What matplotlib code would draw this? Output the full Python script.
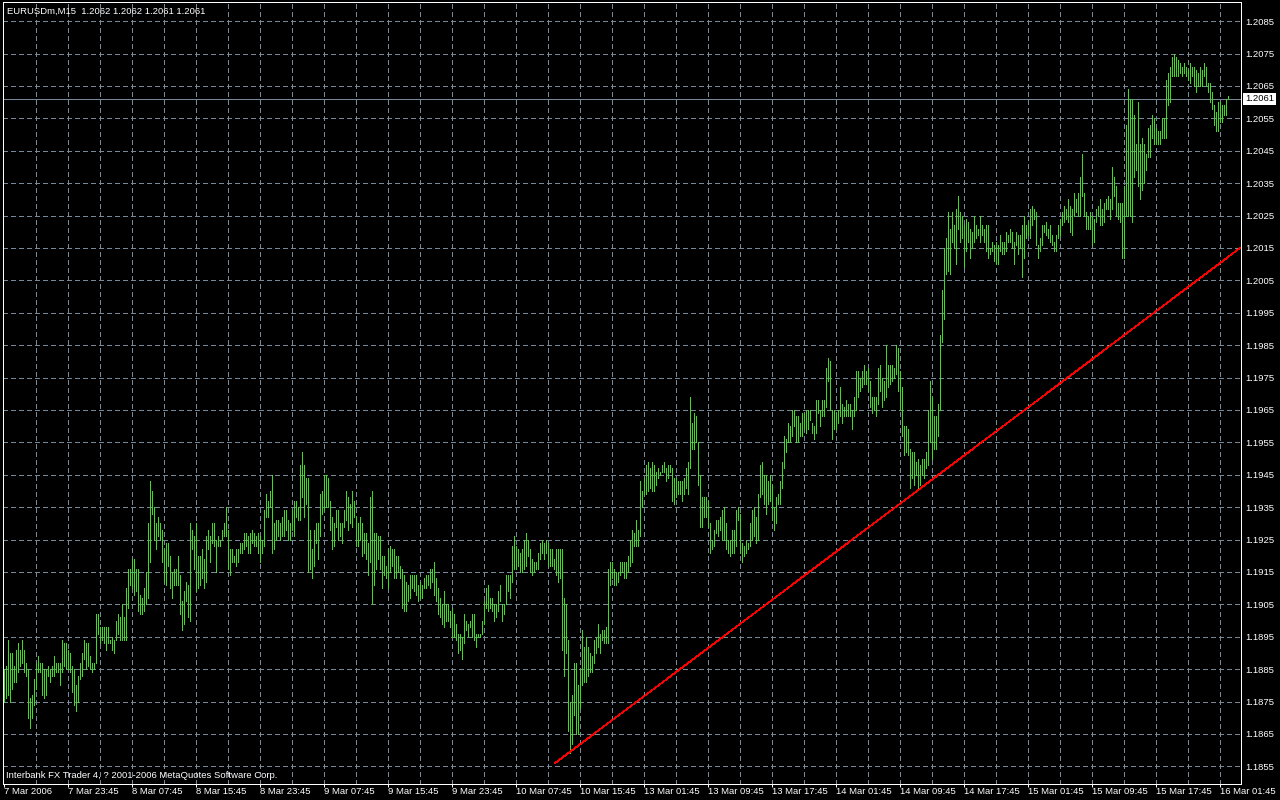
import numpy as np
import matplotlib
matplotlib.use("Agg")
import matplotlib.pyplot as plt

plt.rcParams['font.family'] = ['Liberation Sans', 'DejaVu Sans']

# ---------------- data (EURUSDm, M15) ----------------
header_text = "EURUSDm,M15  1.2062 1.2062 1.2061 1.2061"
footer_text = "Interbank FX Trader 4, ? 2001-2006 MetaQuotes Software Corp."

high = [
    1.1885,1.1886,1.1894,1.1890,1.1890,1.1886,1.1891,1.1893,1.1891,1.1894,
    1.1891,1.1887,1.1885,1.1876,1.1877,1.1882,1.1887,1.1889,1.1887,1.1887,
    1.1885,1.1885,1.1886,1.1885,1.1886,1.1889,1.1887,1.1887,1.1887,1.1894,
    1.1893,1.1893,1.1891,1.1890,1.1886,1.1885,1.1880,1.1883,1.1887,1.1890,
    1.1894,1.1893,1.1893,1.1889,1.1887,1.1887,1.1902,1.1902,1.1898,1.1898,
    1.1898,1.1898,1.1898,1.1894,1.1895,1.1894,1.1900,1.1902,1.1901,1.1905,
    1.1901,1.1910,1.1916,1.1916,1.1919,1.1919,1.1916,1.1916,1.1908,1.1907,
    1.1910,1.1915,1.1930,1.1943,1.1940,1.1935,1.1930,1.1932,1.1930,1.1928,
    1.1922,1.1924,1.1924,1.1920,1.1915,1.1916,1.1916,1.1920,1.1914,1.1906,
    1.1909,1.1912,1.1911,1.1930,1.1928,1.1926,1.1930,1.1920,1.1920,1.1922,
    1.1919,1.1926,1.1928,1.1926,1.1930,1.1930,1.1925,1.1926,1.1925,1.1928,
    1.1930,1.1935,1.1928,1.1922,1.1922,1.1920,1.1922,1.1922,1.1924,1.1924,
    1.1927,1.1927,1.1926,1.1927,1.1928,1.1927,1.1926,1.1927,1.1926,1.1925,
    1.1934,1.1939,1.1937,1.1940,1.1945,1.1930,1.1931,1.1931,1.1930,1.1932,
    1.1934,1.1934,1.1931,1.1930,1.1934,1.1937,1.1937,1.1935,1.1948,1.1952,
    1.1948,1.1944,1.1944,1.1928,1.1922,1.1928,1.1930,1.1930,1.1939,1.1940,
    1.1945,1.1945,1.1944,1.1937,1.1932,1.1930,1.1934,1.1934,1.1930,1.1930,
    1.1934,1.1940,1.1938,1.1936,1.1940,1.1937,1.1932,1.1930,1.1932,1.1930,
    1.1927,1.1927,1.1924,1.1938,1.1940,1.1927,1.1927,1.1926,1.1926,1.1920,
    1.1920,1.1917,1.1922,1.1923,1.1922,1.1922,1.1920,1.1920,1.1917,1.1916,
    1.1914,1.1912,1.1911,1.1914,1.1914,1.1914,1.1914,1.1911,1.1912,1.1911,
    1.1913,1.1914,1.1914,1.1916,1.1916,1.1918,1.1913,1.1910,1.1907,1.1905,
    1.1909,1.1905,1.1905,1.1903,1.1904,1.1902,1.1899,1.1896,1.1896,1.1895,
    1.1902,1.1900,1.1899,1.1900,1.1902,1.1902,1.1896,1.1896,1.1896,1.1900,
    1.1906,1.1910,1.1911,1.1907,1.1907,1.1905,1.1905,1.1909,1.1911,1.1905,
    1.1905,1.1914,1.1914,1.1914,1.1923,1.1926,1.1923,1.1922,1.1921,1.1922,
    1.1925,1.1927,1.1925,1.1922,1.1919,1.1918,1.1918,1.1921,1.1924,1.1925,
    1.1924,1.1925,1.1924,1.1922,1.1922,1.1919,1.1922,1.1922,1.1922,1.1922,
    1.1907,1.1905,1.1894,1.1875,1.1877,1.1887,1.1887,1.1880,1.1885,1.1897,
    1.1892,1.1895,1.1892,1.1890,1.1889,1.1894,1.1895,1.1899,1.1896,1.1897,
    1.1897,1.1898,1.1916,1.1918,1.1918,1.1916,1.1915,1.1915,1.1918,1.1918,
    1.1918,1.1918,1.1920,1.1925,1.1928,1.1927,1.1931,1.1928,1.1943,1.1940,
    1.1944,1.1948,1.1949,1.1947,1.1949,1.1948,1.1946,1.1947,1.1946,1.1948,
    1.1949,1.1947,1.1948,1.1948,1.1947,1.1944,1.1944,1.1943,1.1943,1.1943,
    1.1944,1.1947,1.1949,1.1969,1.1961,1.1964,1.1963,1.1955,1.1945,1.1938,
    1.1938,1.1938,1.1937,1.1930,1.1925,1.1928,1.1931,1.1931,1.1932,1.1934,
    1.1935,1.1930,1.1925,1.1925,1.1928,1.1928,1.1934,1.1935,1.1933,1.1924,
    1.1923,1.1925,1.1924,1.1930,1.1934,1.1935,1.1932,1.1939,1.1948,1.1949,
    1.1945,1.1945,1.1943,1.1945,1.1942,1.1935,1.1938,1.1939,1.1943,1.1949,
    1.1957,1.1956,1.1961,1.1960,1.1965,1.1965,1.1963,1.1963,1.1961,1.1964,
    1.1964,1.1965,1.1965,1.1965,1.1961,1.1960,1.1968,1.1968,1.1965,1.1968,
    1.1968,1.1978,1.1981,1.1980,1.1965,1.1965,1.1964,1.1965,1.1972,1.1967,
    1.1966,1.1968,1.1967,1.1967,1.1965,1.1969,1.1977,1.1977,1.1975,1.1977,
    1.1979,1.1977,1.1978,1.1974,1.1969,1.1969,1.1969,1.1978,1.1979,1.1975,
    1.1974,1.1985,1.1979,1.1979,1.1979,1.1978,1.1985,1.1984,1.1977,1.1972,
    1.1960,1.1960,1.1959,1.1953,1.1952,1.1952,1.1949,1.1950,1.1948,1.1950,
    1.1950,1.1952,1.1965,1.1974,1.1969,1.1963,1.1963,1.1967,1.1988,1.2002,
    1.2015,1.2018,1.2026,1.2021,1.2026,1.2022,1.2027,1.2031,1.2026,1.2025,
    1.2022,1.2024,1.2023,1.2021,1.2020,1.2025,1.2022,1.2021,1.2025,1.2022,
    1.2021,1.2022,1.2022,1.2015,1.2017,1.2016,1.2017,1.2016,1.2019,1.2017,
    1.2017,1.2020,1.2019,1.2021,1.2020,1.2017,1.2020,1.2019,1.2019,1.2022,
    1.2025,1.2022,1.2023,1.2027,1.2028,1.2027,1.2026,1.2016,1.2018,1.2022,
    1.2022,1.2023,1.2021,1.2022,1.2019,1.2017,1.2019,1.2022,1.2024,1.2026,
    1.2028,1.2027,1.2030,1.2028,1.2027,1.2032,1.2030,1.2032,1.2037,1.2044,
    1.2032,1.2026,1.2025,1.2026,1.2025,1.2024,1.2027,1.2028,1.2030,1.2027,
    1.2029,1.2030,1.2031,1.2030,1.2040,1.2037,1.2034,1.2029,1.2029,1.2029,
    1.2034,1.2053,1.2064,1.2061,1.2061,1.2056,1.2047,1.2060,1.2047,1.2049,
    1.2047,1.2044,1.2052,1.2053,1.2056,1.2055,1.2052,1.2051,1.2051,1.2055,
    1.2055,1.2067,1.2069,1.2071,1.2074,1.2075,1.2074,1.2073,1.2072,1.2071,
    1.2072,1.2071,1.2070,1.2072,1.2071,1.2071,1.2070,1.2069,1.2071,1.2070,
    1.2072,1.2071,1.2066,1.2066,1.2063,1.2059,1.2057,1.2060,1.2060,1.2059,
    1.2059,1.2061,1.2062,
]

low = [
    1.1875,1.1876,1.1877,1.1875,1.1879,1.1881,1.1881,1.1884,1.1886,1.1887,
    1.1884,1.1883,1.1870,1.1867,1.1870,1.1874,1.1879,1.1884,1.1884,1.1877,
    1.1876,1.1877,1.1883,1.1881,1.1883,1.1883,1.1884,1.1884,1.1880,1.1884,
    1.1886,1.1885,1.1885,1.1884,1.1878,1.1874,1.1872,1.1875,1.1882,1.1883,
    1.1888,1.1885,1.1886,1.1885,1.1884,1.1885,1.1887,1.1896,1.1893,1.1894,
    1.1893,1.1891,1.1893,1.1893,1.1891,1.1890,1.1894,1.1896,1.1894,1.1894,
    1.1894,1.1894,1.1904,1.1911,1.1910,1.1908,1.1909,1.1903,1.1902,1.1902,
    1.1903,1.1905,1.1907,1.1918,1.1933,1.1925,1.1922,1.1926,1.1925,1.1918,
    1.1912,1.1911,1.1917,1.1910,1.1907,1.1911,1.1911,1.1911,1.1902,1.1897,
    1.1899,1.1906,1.1901,1.1900,1.1922,1.1916,1.1909,1.1910,1.1911,1.1913,
    1.1910,1.1912,1.1922,1.1918,1.1924,1.1923,1.1915,1.1923,1.1923,1.1925,
    1.1926,1.1926,1.1916,1.1914,1.1918,1.1918,1.1917,1.1918,1.1921,1.1921,
    1.1922,1.1923,1.1921,1.1921,1.1924,1.1923,1.1923,1.1921,1.1918,1.1921,
    1.1923,1.1932,1.1932,1.1935,1.1921,1.1922,1.1925,1.1926,1.1925,1.1926,
    1.1926,1.1928,1.1925,1.1925,1.1928,1.1926,1.1932,1.1931,1.1931,1.1938,
    1.1932,1.1936,1.1915,1.1916,1.1913,1.1917,1.1924,1.1919,1.1926,1.1933,
    1.1934,1.1935,1.1935,1.1928,1.1922,1.1923,1.1929,1.1925,1.1926,1.1924,
    1.1929,1.1931,1.1928,1.1930,1.1929,1.1932,1.1923,1.1923,1.1925,1.1920,
    1.1921,1.1919,1.1914,1.1918,1.1905,1.1911,1.1916,1.1919,1.1916,1.1910,
    1.1914,1.1913,1.1910,1.1915,1.1917,1.1913,1.1913,1.1915,1.1913,1.1904,
    1.1903,1.1903,1.1906,1.1907,1.1910,1.1909,1.1908,1.1906,1.1907,1.1907,
    1.1910,1.1910,1.1911,1.1910,1.1912,1.1908,1.1906,1.1902,1.1901,1.1899,
    1.1898,1.1900,1.1900,1.1898,1.1895,1.1895,1.1894,1.1890,1.1891,1.1888,
    1.1893,1.1897,1.1895,1.1898,1.1895,1.1894,1.1892,1.1895,1.1895,1.1896,
    1.1899,1.1904,1.1903,1.1904,1.1903,1.1900,1.1901,1.1903,1.1906,1.1900,
    1.1902,1.1905,1.1909,1.1907,1.1912,1.1916,1.1916,1.1917,1.1915,1.1915,
    1.1916,1.1917,1.1920,1.1915,1.1914,1.1915,1.1916,1.1916,1.1919,1.1921,
    1.1919,1.1921,1.1917,1.1917,1.1917,1.1916,1.1914,1.1912,1.1913,1.1891,
    1.1883,1.1890,1.1866,1.1859,1.1862,1.1871,1.1865,1.1865,1.1873,1.1880,
    1.1881,1.1881,1.1883,1.1884,1.1884,1.1887,1.1890,1.1892,1.1890,1.1894,
    1.1893,1.1893,1.1893,1.1911,1.1913,1.1911,1.1911,1.1912,1.1914,1.1915,
    1.1913,1.1913,1.1915,1.1917,1.1918,1.1923,1.1923,1.1923,1.1926,1.1935,
    1.1939,1.1939,1.1940,1.1941,1.1940,1.1940,1.1942,1.1944,1.1945,1.1946,
    1.1946,1.1943,1.1944,1.1946,1.1937,1.1936,1.1938,1.1939,1.1939,1.1937,
    1.1939,1.1941,1.1939,1.1947,1.1953,1.1953,1.1955,1.1942,1.1929,1.1929,
    1.1932,1.1932,1.1929,1.1921,1.1922,1.1923,1.1927,1.1926,1.1928,1.1925,
    1.1925,1.1922,1.1921,1.1920,1.1921,1.1921,1.1923,1.1931,1.1921,1.1918,
    1.1920,1.1921,1.1922,1.1923,1.1925,1.1926,1.1924,1.1925,1.1938,1.1939,
    1.1936,1.1933,1.1936,1.1937,1.1931,1.1928,1.1930,1.1936,1.1936,1.1941,
    1.1947,1.1952,1.1955,1.1955,1.1957,1.1960,1.1955,1.1955,1.1957,1.1957,
    1.1959,1.1958,1.1959,1.1962,1.1958,1.1956,1.1958,1.1964,1.1960,1.1963,
    1.1963,1.1966,1.1974,1.1965,1.1956,1.1959,1.1959,1.1961,1.1963,1.1961,
    1.1963,1.1963,1.1963,1.1963,1.1959,1.1963,1.1965,1.1969,1.1971,1.1972,
    1.1973,1.1973,1.1971,1.1966,1.1964,1.1965,1.1963,1.1967,1.1971,1.1966,
    1.1968,1.1969,1.1972,1.1973,1.1974,1.1975,1.1976,1.1971,1.1965,1.1957,
    1.1951,1.1952,1.1951,1.1941,1.1944,1.1942,1.1945,1.1941,1.1942,1.1945,
    1.1944,1.1947,1.1948,1.1955,1.1950,1.1953,1.1953,1.1957,1.1965,1.1986,
    1.1993,1.2007,1.2008,1.2007,1.2017,1.2015,1.2010,1.2021,1.2017,1.2018,
    1.2009,1.2014,1.2017,1.2012,1.2015,1.2017,1.2018,1.2019,1.2017,1.2019,
    1.2017,1.2014,1.2012,1.2013,1.2014,1.2011,1.2010,1.2010,1.2014,1.2013,
    1.2013,1.2014,1.2017,1.2017,1.2015,1.2010,1.2016,1.2013,1.2015,1.2006,
    1.2012,1.2018,1.2019,1.2018,1.2022,1.2024,1.2016,1.2012,1.2014,1.2016,
    1.2020,1.2019,1.2018,1.2017,1.2016,1.2014,1.2014,1.2018,1.2019,1.2022,
    1.2023,1.2024,1.2023,1.2020,1.2019,1.2025,1.2026,1.2025,1.2025,1.2031,
    1.2025,1.2021,1.2021,1.2021,1.2016,1.2017,1.2023,1.2025,1.2022,1.2022,
    1.2023,1.2027,1.2027,1.2024,1.2027,1.2031,1.2025,1.2024,1.2023,1.2012,
    1.2012,1.2025,1.2025,1.2025,1.2023,1.2037,1.2039,1.2034,1.2030,1.2033,
    1.2035,1.2039,1.2043,1.2043,1.2049,1.2047,1.2047,1.2047,1.2047,1.2049,
    1.2049,1.2049,1.2059,1.2060,1.2068,1.2068,1.2068,1.2068,1.2069,1.2068,
    1.2069,1.2068,1.2067,1.2066,1.2068,1.2065,1.2063,1.2065,1.2065,1.2065,
    1.2068,1.2065,1.2063,1.2060,1.2058,1.2053,1.2051,1.2051,1.2054,1.2054,
    1.2056,1.2056,1.2061,
]

date_labels = ["7 Mar 2006", "7 Mar 23:45", "8 Mar 07:45", "8 Mar 15:45",
               "8 Mar 23:45", "9 Mar 07:45", "9 Mar 15:45", "9 Mar 23:45",
               "10 Mar 07:45", "10 Mar 15:45", "13 Mar 01:45", "13 Mar 09:45",
               "13 Mar 17:45", "14 Mar 01:45", "14 Mar 09:45", "14 Mar 17:45",
               "15 Mar 01:45", "15 Mar 09:45", "15 Mar 17:45", "16 Mar 01:45"]
bars_per_label = 32
bars_per_grid = 16

price_ticks = [1.1855, 1.1865, 1.1875, 1.1885, 1.1895, 1.1905, 1.1915, 1.1925,
               1.1935, 1.1945, 1.1955, 1.1965, 1.1975, 1.1985, 1.1995, 1.2005,
               1.2015, 1.2025, 1.2035, 1.2045, 1.2055, 1.2065, 1.2075, 1.2085]
last_price = 1.2061

trend_x = [275.75, 618.5]
trend_y = [1.1856, 1.20151]

# ---------------- styling ----------------
BG = "black"
FG = "white"
BAR = "#3cdc1e"
GRID = "#778899"
PX = 0.72  # one pixel in points at 100 dpi
FS = 6.8

W, H = 1280, 800
fig = plt.figure(figsize=(W / 100, H / 100), dpi=100, facecolor=BG)
ax_l, ax_r, ax_t, ax_b = 2.5, 1240.5, 1.5, 783.5
ax = fig.add_axes([ax_l / W, 1 - ax_b / H, (ax_r - ax_l) / W, (ax_b - ax_t) / H])
ax.set_facecolor(BG)

n = min(len(high), len(low))
x = np.arange(n)
ax.set_xlim(-0.5, 618.5)
ax.set_ylim(1.184972, 1.209108)

# grid
for p in price_ticks:
    ax.axhline(p, color=GRID, lw=PX, ls=(0, (4.5, 3)), zorder=0.5, antialiased=False)
for b in range(bars_per_grid, 619, bars_per_grid):
    ax.axvline(b, color=GRID, lw=PX, ls=(0, (4.5, 3)), zorder=0.5, antialiased=False)

# bid line
ax.axhline(last_price, color=GRID, lw=PX, zorder=0.8, antialiased=False)

# bars (high-low)
ax.vlines(x, np.array(low[:n]), np.array(high[:n]), colors=BAR, linewidth=PX,
          antialiased=False, zorder=2)

# trend line
ax.plot(trend_x, trend_y, color="#ff0000", lw=0.5, antialiased=False, zorder=3,
        clip_on=True)

# spines
for s in ax.spines.values():
    s.set_color(FG)
    s.set_linewidth(PX)

# y axis on right
ax.yaxis.tick_right()
ax.set_yticks(price_ticks)
ax.set_yticklabels([f"{p:.4f}" for p in price_ticks])
ax.tick_params(axis="y", length=0, pad=3.3, labelcolor=FG, labelsize=FS)

# x axis
label_pos = [i * bars_per_label for i in range(len(date_labels))]
ax.set_xticks(label_pos)
ax.set_xticklabels(date_labels, ha="left")
ax.tick_params(axis="x", length=2.2, width=PX, color=FG, pad=0.3,
               labelcolor=FG, labelsize=FS)
for lab in ax.get_xticklabels():
    lab.set_horizontalalignment("left")

# last price box
ax.annotate(f"{last_price:.4f}", xy=(1.0, last_price),
            xycoords=("axes fraction", "data"), xytext=(3.3, 0),
            textcoords="offset points", ha="left", va="center",
            color="black", fontsize=FS, annotation_clip=False,
            bbox=dict(boxstyle="square,pad=0.2", fc="white", ec="white", lw=0))

# header / footer
fig.text(7 / W, 1 - 11 / H, header_text, color=FG, fontsize=FS,
         ha="left", va="center")
fig.text(6 / W, 1 - 775 / H, footer_text, color=FG, fontsize=FS,
         ha="left", va="center")

fig.savefig("out.png", dpi=100, facecolor=BG)
